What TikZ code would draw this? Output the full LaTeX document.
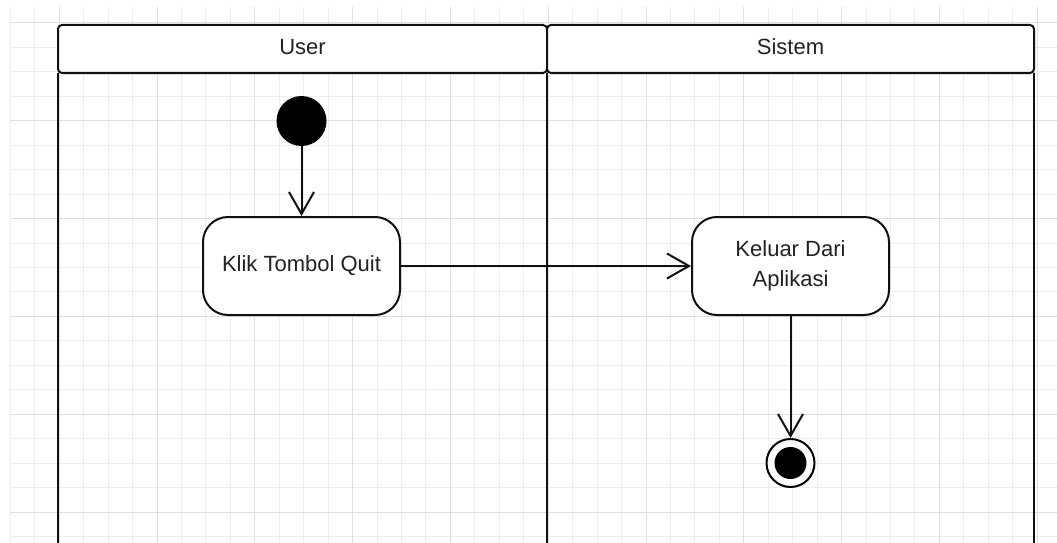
\documentclass[tikz,border=0pt]{standalone}
\usepackage{fontspec}
\setmainfont{Liberation Sans}
\usetikzlibrary{arrows.meta}
\definecolor{linec}{HTML}{111111}
\definecolor{textc}{HTML}{222222}
\definecolor{gridminor}{HTML}{EEEEEE}
\definecolor{gridmajor}{HTML}{E0E0E0}
\begin{document}
\begin{tikzpicture}[x=1pt,y=-1pt,
  lane/.style={draw=linec, line width=2pt},
  lanetitle/.style={font=\fontsize{22}{26}\selectfont, text=textc, inner sep=0pt},
  action/.style={draw=linec, line width=2pt, rounded corners=25pt,
    minimum width=197pt, minimum height=98pt, align=center,
    font=\fontsize{22}{30}\selectfont, text=textc},
  flow/.style={draw=linec, line width=2pt,
    -{Straight Barb[length=22pt,width=25pt,line width=2pt]}},
  gridline/.style={line width=1pt}
]
\useasboundingbox (0,0) rectangle (1057,543);

% background grid
\foreach \i in {0,...,42}
  \draw[gridline, gridminor] ({10.3+\i*24.45},7) -- ({10.3+\i*24.45},543);
\foreach \j in {0,...,21}
  \draw[gridline, gridminor] (10.3,{23+\j*24.45}) -- (1057,{23+\j*24.45});
\foreach \i in {0,...,10}
  \draw[gridline, gridmajor] ({59.2+\i*97.8},7) -- ({59.2+\i*97.8},543);
\foreach \j in {0,...,5}
  \draw[gridline, gridmajor] (10.3,{23+\j*97.8}) -- (1057,{23+\j*97.8});

% swimlanes
\draw[lane, rounded corners=4pt, fill=white] (58,25) rectangle (547,73);
\draw[lane, rounded corners=4pt, fill=white] (547,25) rectangle (1034,73);
\draw[lane] (58,73) -- (58,543);
\draw[lane] (547,73) -- (547,543);
\draw[lane] (1034,73) -- (1034,543);
\node[lanetitle] (usertitle) at (302.5,47) {User};
\node[lanetitle] (sistemtitle) at (790.5,47) {Sistem};

% activity flow
\node[circle, fill=black, minimum size=50pt, inner sep=0pt] (start) at (301.5,121) {};
\node[action, fill=white] (klik) at (301.5,266) {Klik Tombol Quit};
\node[action, fill=white] (keluar) at (790.5,266) {Keluar Dari\\Aplikasi};
\node[circle, draw=black, line width=2pt, fill=white, minimum size=48pt, inner sep=0pt] (finish) at (790.5,463) {};
\node[circle, fill=black, minimum size=32pt, inner sep=0pt] (finishcore) at (finish.center) {};

\draw[flow] (start) -- (klik);
\draw[flow] (klik) -- (keluar);
\draw[flow] (keluar) -- (finish);
\end{tikzpicture}
\end{document}
